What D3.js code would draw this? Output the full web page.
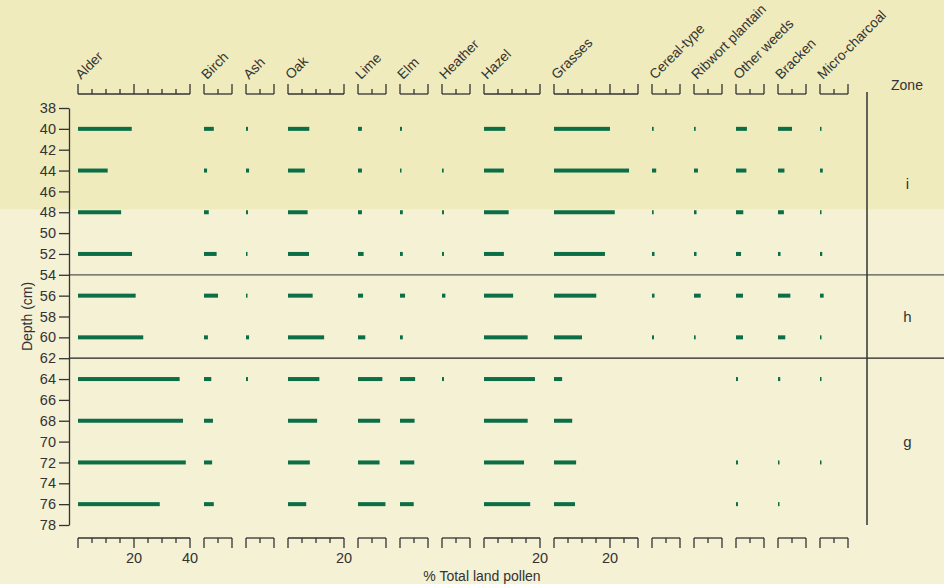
<!DOCTYPE html>
<html>
<head>
<meta charset="utf-8">
<script src="https://cdn.jsdelivr.net/npm/d3@7"></script>
<style>
html,body{margin:0;padding:0;background:#f4f1d5;}
svg{display:block;}
text{font-family:"Liberation Sans Narrow","Arial Narrow","Liberation Sans",Arial,sans-serif;fill:#333;}
</style>
</head>
<body>
<svg id="chart" width="944" height="584"></svg>
<script>
// ---- Data ----
const depths = [40, 44, 48, 52, 56, 60, 64, 68, 72, 76];
const taxa = ["Alder","Birch","Ash","Oak","Lime","Elm","Heather","Hazel","Grasses","Cereal-type","Ribwort plantain","Other weeds","Bracken","Micro-charcoal"];
const scaleMax = [40, 10, 10, 20, 10, 10, 10, 20, 30, 10, 10, 10, 10, 10];
const bottomTickLabels = [[20, 40], [], [], [20], [], [], [], [20], [20], [], [], [], [], []];

const alder   = [19.2, 10.6, 15.4, 19.3, 20.6, 23.3, 36.3, 37.5, 38.5, 29.2];
const birch   = [3.5, 1.1, 1.7, 4.5, 5.0, 1.4, 2.6, 3.2, 2.9, 3.5];
const ash     = [0.7, 1.1, 0.7, 0.5, 0.5, 1.1, 0.7, 0, 0, 0];
const oak     = [7.6, 6.0, 7.0, 7.5, 8.8, 12.9, 11.2, 10.4, 7.8, 6.5];
const lime    = [1.4, 1.4, 1.4, 2.0, 1.8, 2.6, 8.7, 7.9, 7.7, 9.8];
const elm     = [0.7, 0.5, 1.0, 1.0, 1.8, 1.0, 5.4, 5.2, 5.1, 4.9];
const heather = [0, 0.6, 0.7, 0.7, 1.2, 0, 0.7, 0, 0, 0];
const hazel   = [7.6, 7.1, 8.8, 7.1, 10.4, 15.6, 18.2, 15.6, 14.3, 16.5];
const grasses = [20.0, 26.8, 21.7, 18.2, 15.1, 10.0, 2.9, 6.5, 7.9, 7.5];
const cereal  = [0.6, 1.5, 0.6, 0.9, 0.9, 0.7, 0, 0, 0, 0];
const ribwort = [0.6, 1.4, 0.9, 0.9, 2.4, 0.6, 0, 0, 0, 0];
const otherWeeds = [3.9, 3.7, 2.6, 1.8, 2.5, 2.5, 0.7, 0, 0.7, 0.7];
const bracken = [5.0, 2.3, 2.1, 0.9, 4.4, 2.6, 0.8, 0, 0.4, 0.4];
const charcoal = [0.5, 1.0, 0.5, 0.8, 1.3, 0.5, 0.4, 0, 0.4, 0];
const series = [alder, birch, ash, oak, lime, elm, heather, hazel, grasses, cereal, ribwort, otherWeeds, bracken, charcoal];

const zones = ["i", "h", "g"];
const zoneBounds = [[null, 54], [54, 62], [62, 78]];
const zoneBreaks = [54, 62];
const depthTicks = d3.range(38, 79, 2);

// ---- Layout ----
const W = 944, H = 584;
const pxPerPct = 2.8, gap = 14, startX = 78;
const yTop = 108, yBot = 525;
const axisX = 69;
const zoneTop = 92;
const barColor = "#0b6e46";
const ink = "#333";

const svg = d3.select("#chart");
const y = d3.scaleLinear().domain([38, 78]).range([yTop, yBot]);

// backgrounds
svg.append("rect").attr("x", 0).attr("y", 0).attr("width", W).attr("height", H).attr("fill", "#f4f1d5");
svg.append("rect").attr("x", 0).attr("y", 0).attr("width", W).attr("height", y(47.7)).attr("fill", "#efebbd");

// panel scales
let cx = startX;
const panels = taxa.map((t, i) => {
  const x = d3.scaleLinear().domain([0, scaleMax[i]]).range([cx, cx + scaleMax[i] * pxPerPct]);
  cx += scaleMax[i] * pxPerPct + gap;
  return {name: t, x, max: scaleMax[i], vals: series[i], labels: bottomTickLabels[i]};
});

// zone lines
zoneBreaks.forEach((d, i) => {
  svg.append("line").attr("x1", axisX).attr("x2", W)
    .attr("y1", y(d)).attr("y2", y(d))
    .attr("stroke", i === 0 ? "#555" : "#222").attr("stroke-width", 1.3);
});

// y axis
const yAxis = d3.axisLeft(y).tickValues(depthTicks).tickSize(10).tickPadding(3).tickSizeOuter(0);
const gy = svg.append("g").attr("transform", `translate(${axisX},0)`).call(yAxis);
gy.select(".domain").attr("stroke", ink).attr("stroke-width", 1.3);
gy.selectAll(".tick line").attr("stroke", ink).attr("stroke-width", 1.3);
gy.selectAll(".tick text").attr("font-size", 14.5).attr("fill", ink)
  .style("font-family", '"Liberation Sans Narrow","Arial Narrow","Liberation Sans",Arial,sans-serif');

svg.append("text").attr("transform", `translate(32,${(yTop + yBot) / 2}) rotate(-90)`)
  .attr("text-anchor", "middle").attr("font-size", 14).text("Depth (cm)");

// brackets & labels
function bracket(g, p, yLine, dir) {
  const ticks = d3.range(0, p.max + 0.01, 5);
  g.append("line").attr("x1", p.x(0)).attr("x2", p.x(p.max)).attr("y1", yLine).attr("y2", yLine)
    .attr("stroke", ink).attr("stroke-width", 1.3);
  g.selectAll(null).data(ticks).join("line")
    .attr("x1", d => p.x(d)).attr("x2", d => p.x(d))
    .attr("y1", yLine)
    .attr("y2", d => yLine + dir * ((d === 0 || d === p.max || d === 20) ? 10 : 5))
    .attr("stroke", ink).attr("stroke-width", 1.3);
}

panels.forEach(p => {
  const g = svg.append("g");
  bracket(g, p, 94, -1);
  bracket(g, p, 538, 1);
  g.append("text").attr("transform", `translate(${p.x(0) + 3},80) rotate(-45)`)
    .attr("font-size", 13.8).text(p.name);
  g.selectAll(null).data(p.labels).join("text")
    .attr("x", d => p.x(d)).attr("y", 563).attr("text-anchor", "middle")
    .attr("font-size", 14.5).text(d => d);
  // bars
  g.selectAll(null).data(depths.map((d, i) => ({d, v: p.vals[i]})).filter(o => o.v > 0)).join("rect")
    .attr("x", p.x(0)).attr("y", o => y(o.d) - 2)
    .attr("width", o => Math.max(1.5, p.x(o.v) - p.x(0))).attr("height", 4)
    .attr("fill", barColor);
});

svg.append("text").attr("x", 482).attr("y", 581).attr("text-anchor", "middle")
  .attr("font-size", 14).text("% Total land pollen");

// zone column
svg.append("line").attr("x1", 867).attr("x2", 867).attr("y1", zoneTop).attr("y2", yBot)
  .attr("stroke", ink).attr("stroke-width", 1.5);
svg.append("text").attr("x", 907).attr("y", 90).attr("text-anchor", "middle").attr("font-size", 14).text("Zone");
svg.selectAll(null).data(zones).join("text")
  .attr("x", 907.5)
  .attr("y", (d, i) => ((zoneBounds[i][0] === null ? zoneTop : y(zoneBounds[i][0])) + y(zoneBounds[i][1])) / 2)
  .attr("dy", "0.35em").attr("text-anchor", "middle").attr("font-size", 15)
  .style("fill", "#333").text(d => d);
</script>
</body>
</html>
